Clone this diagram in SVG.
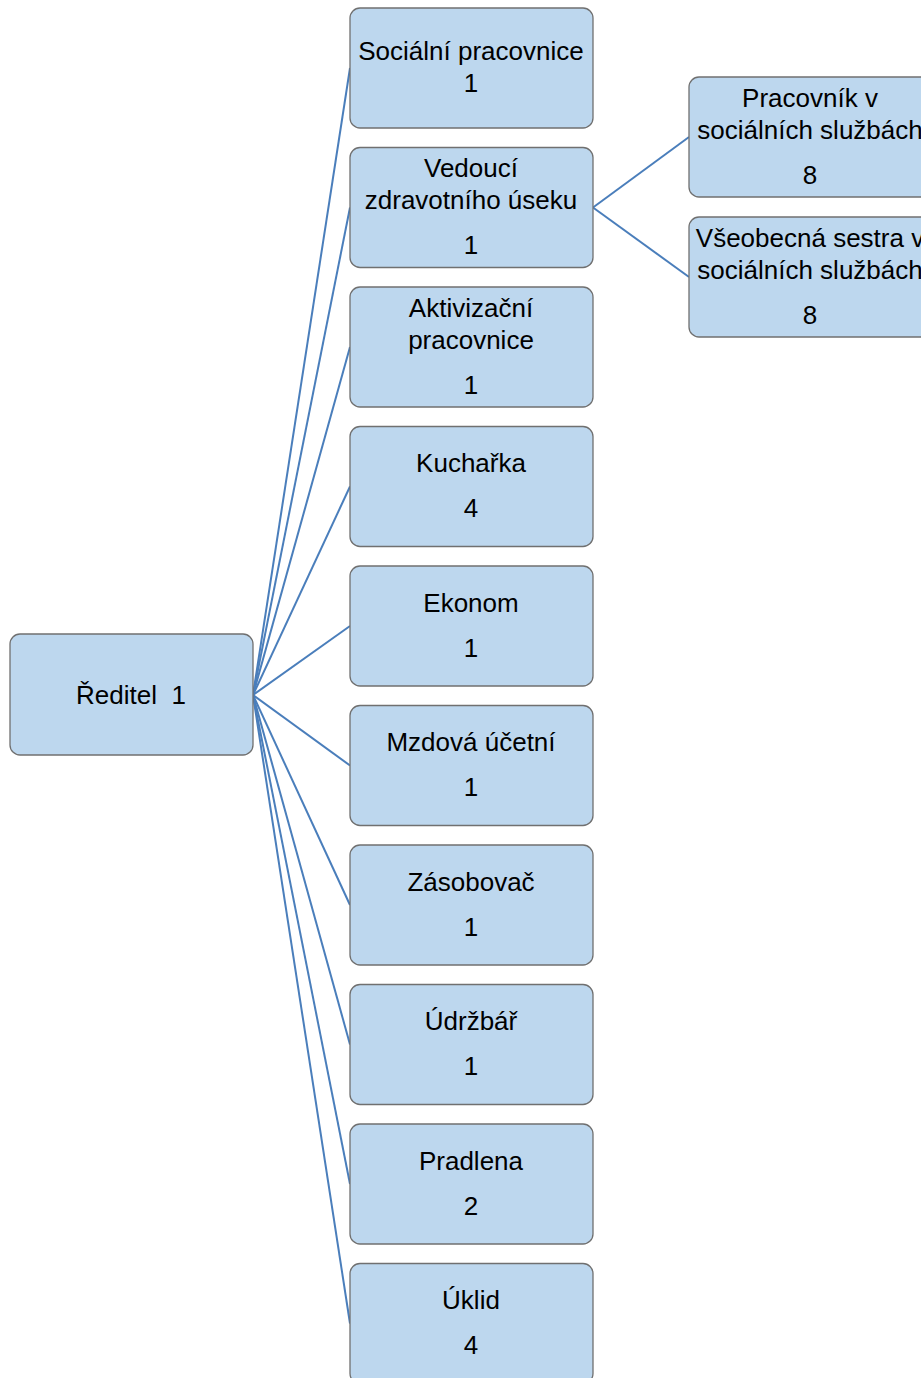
<svg xmlns="http://www.w3.org/2000/svg" width="921" height="1378" viewBox="0 0 921 1378">
<style>
.box{fill:#BDD7EE;stroke:#707070;stroke-width:1.3}
.t{font-family:"Liberation Sans",Arial,sans-serif;font-size:26px;fill:#000;text-anchor:middle}
.c{stroke:#4A7EBB;stroke-width:2;fill:none}
</style>
<rect width="921" height="1378" fill="#fff"/>
<g id="connectors">
<line class="c" x1="253" y1="695" x2="350" y2="68"/>
<line class="c" x1="253" y1="695" x2="350" y2="207.5"/>
<line class="c" x1="253" y1="695" x2="350" y2="347"/>
<line class="c" x1="253" y1="695" x2="350" y2="486.5"/>
<line class="c" x1="253" y1="695" x2="350" y2="626"/>
<line class="c" x1="253" y1="695" x2="350" y2="765.5"/>
<line class="c" x1="253" y1="695" x2="350" y2="905"/>
<line class="c" x1="253" y1="695" x2="350" y2="1044.5"/>
<line class="c" x1="253" y1="695" x2="350" y2="1184"/>
<line class="c" x1="253" y1="695" x2="350" y2="1323.5"/>
<line class="c" x1="593" y1="207.5" x2="689" y2="137"/>
<line class="c" x1="593" y1="207.5" x2="689" y2="277"/>
</g>
<g id="reditel"><rect class="box" x="10" y="634" width="243" height="121" rx="10"/><text class="t" x="131" y="704" xml:space="preserve" style="white-space:pre">Ředitel  1</text></g>
<g id="socialni"><rect class="box" x="350" y="8" width="243" height="120" rx="10"/><text class="t" x="471" y="60">Sociální pracovnice</text><text class="t" x="471" y="92">1</text></g>
<g id="vedouci"><rect class="box" x="350" y="147.5" width="243" height="120" rx="10"/><text class="t" x="471" y="177">Vedoucí</text><text class="t" x="471" y="209">zdravotního úseku</text><text class="t" x="471" y="254">1</text></g>
<g id="aktivizacni"><rect class="box" x="350" y="287" width="243" height="120" rx="10"/><text class="t" x="471" y="317">Aktivizační</text><text class="t" x="471" y="349">pracovnice</text><text class="t" x="471" y="394">1</text></g>
<g id="kucharka"><rect class="box" x="350" y="426.5" width="243" height="120" rx="10"/><text class="t" x="471" y="472">Kuchařka</text><text class="t" x="471" y="517">4</text></g>
<g id="ekonom"><rect class="box" x="350" y="566" width="243" height="120" rx="10"/><text class="t" x="471" y="612">Ekonom</text><text class="t" x="471" y="657">1</text></g>
<g id="mzdova"><rect class="box" x="350" y="705.5" width="243" height="120" rx="10"/><text class="t" x="471" y="751">Mzdová účetní</text><text class="t" x="471" y="796">1</text></g>
<g id="zasobovac"><rect class="box" x="350" y="845" width="243" height="120" rx="10"/><text class="t" x="471" y="891">Zásobovač</text><text class="t" x="471" y="936">1</text></g>
<g id="udrzbar"><rect class="box" x="350" y="984.5" width="243" height="120" rx="10"/><text class="t" x="471" y="1030">Údržbář</text><text class="t" x="471" y="1075">1</text></g>
<g id="pradlena"><rect class="box" x="350" y="1124" width="243" height="120" rx="10"/><text class="t" x="471" y="1170">Pradlena</text><text class="t" x="471" y="1215">2</text></g>
<g id="uklid"><rect class="box" x="350" y="1263.5" width="243" height="120" rx="10"/><text class="t" x="471" y="1309">Úklid</text><text class="t" x="471" y="1354">4</text></g>
<g id="pracovnik"><rect class="box" x="689" y="77" width="243" height="120" rx="10"/><text class="t" x="810" y="107">Pracovník v</text><text class="t" x="810" y="139">sociálních službách</text><text class="t" x="810" y="184">8</text></g>
<g id="sestra"><rect class="box" x="689" y="217" width="243" height="120" rx="10"/><text class="t" x="810" y="247">Všeobecná sestra v</text><text class="t" x="810" y="279">sociálních službách</text><text class="t" x="810" y="324">8</text></g>
</svg>
